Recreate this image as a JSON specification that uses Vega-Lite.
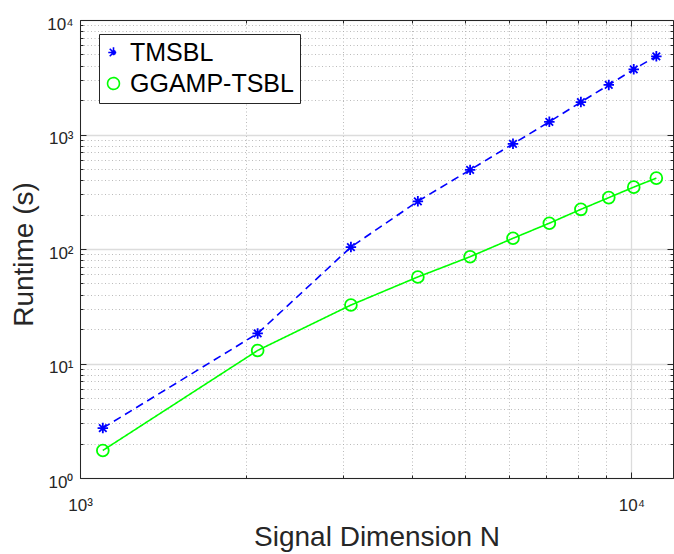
{
  "$schema": "https://vega.github.io/schema/vega-lite/v6.json",
  "width": 593,
  "height": 458,
  "autosize": {"type": "none"},
  "padding": {"left": 80, "top": 20, "right": 1, "bottom": 76},
  "background": "white",
  "config": {
    "view": {"stroke": null},
    "font": "Liberation Sans",
    "axis": {
      "domainColor": "#262626",
      "domainWidth": 1,
      "tickColor": "#262626",
      "tickWidth": 1,
      "labelFont": "Liberation Sans",
      "labelFontSize": 17,
      "labelColor": "#262626",
      "labelFlush": false,
      "labelOverlap": false,
      "labelBound": false,
      "titleFont": "Liberation Sans",
      "titleFontSize": 28,
      "titleFontWeight": "normal",
      "titleColor": "#262626"
    },
    "legend": {
      "title": null,
      "orient": "none",
      "legendX": 19,
      "legendY": 14,
      "padding": 6,
      "rowPadding": 5,
      "strokeColor": "#262626",
      "fillColor": "white",
      "labelFont": "Liberation Sans",
      "labelFontSize": 25,
      "labelColor": "#000000",
      "labelLimit": 0,
      "labelOffset": 4,
      "symbolOffset": -4,
      "symbolSize": 1600,
      "symbolStrokeWidth": 1.5
    }
  },
  "data": {
    "values": [
      {"N": 1100, "runtime": 2.73, "method": "TMSBL"},
      {"N": 2100, "runtime": 18.3, "method": "TMSBL"},
      {"N": 3100, "runtime": 104, "method": "TMSBL"},
      {"N": 4100, "runtime": 261, "method": "TMSBL"},
      {"N": 5100, "runtime": 491, "method": "TMSBL"},
      {"N": 6100, "runtime": 829, "method": "TMSBL"},
      {"N": 7100, "runtime": 1290, "method": "TMSBL"},
      {"N": 8100, "runtime": 1920, "method": "TMSBL"},
      {"N": 9100, "runtime": 2710, "method": "TMSBL"},
      {"N": 10100, "runtime": 3710, "method": "TMSBL"},
      {"N": 11100, "runtime": 4820, "method": "TMSBL"},
      {"N": 1100, "runtime": 1.74, "method": "GGAMP-TSBL"},
      {"N": 2100, "runtime": 13.0, "method": "GGAMP-TSBL"},
      {"N": 3100, "runtime": 32.4, "method": "GGAMP-TSBL"},
      {"N": 4100, "runtime": 57, "method": "GGAMP-TSBL"},
      {"N": 5100, "runtime": 85.6, "method": "GGAMP-TSBL"},
      {"N": 6100, "runtime": 124, "method": "GGAMP-TSBL"},
      {"N": 7100, "runtime": 168, "method": "GGAMP-TSBL"},
      {"N": 8100, "runtime": 222, "method": "GGAMP-TSBL"},
      {"N": 9100, "runtime": 281, "method": "GGAMP-TSBL"},
      {"N": 10100, "runtime": 347, "method": "GGAMP-TSBL"},
      {"N": 11100, "runtime": 416, "method": "GGAMP-TSBL"}
    ]
  },
  "layer": [
    {
      "mark": {"type": "line", "strokeWidth": 1.6},
      "encoding": {
        "x": {
          "field": "N", "type": "quantitative",
          "scale": {"type": "log", "domain": [1000, 11900], "nice": false},
          "axis": {
            "orient": "bottom",
            "values": [1000, 2000, 3000, 4000, 5000, 6000, 7000, 8000, 9000, 10000],
            "labelExpr": "datum.value == 1000 ? '10³' : datum.value == 10000 ? '10⁴' : ''",
            "title": "Signal Dimension N",
            "titleY": 67,
            "titleBaseline": "alphabetic",
            "grid": true,
            "gridColor": {"condition": {"test": "datum.value == 1000 || datum.value == 10000", "value": "#dcdcdc"}, "value": "#aaaaaa"},
            "gridDash": {"condition": {"test": "datum.value == 1000 || datum.value == 10000", "value": []}, "value": [1, 2.5]},
            "gridWidth": {"condition": {"test": "datum.value == 1000 || datum.value == 10000", "value": 1.3}, "value": 0.8},
            "tickSize": {"condition": {"test": "datum.value == 1000 || datum.value == 10000", "value": -6}, "value": -3},
            "labelPadding": 25
          }
        },
        "y": {
          "field": "runtime", "type": "quantitative",
          "scale": {"type": "log", "domain": [1, 10000], "nice": false},
          "axis": {
            "orient": "left",
            "values": [1, 2, 3, 4, 5, 6, 7, 8, 9, 10, 20, 30, 40, 50, 60, 70, 80, 90, 100, 200, 300, 400, 500, 600, 700, 800, 900, 1000, 2000, 3000, 4000, 5000, 6000, 7000, 8000, 9000, 10000],
            "labelExpr": "datum.value == 1 ? '10⁰' : datum.value == 10 ? '10¹' : datum.value == 100 ? '10²' : datum.value == 1000 ? '10³' : datum.value == 10000 ? '10⁴' : ''",
            "title": "Runtime (s)",
            "titleX": -48,
            "titleY": 234,
            "titleBaseline": "alphabetic",
            "titleAngle": 270,
            "titleAlign": "center",
            "grid": true,
            "gridColor": {"condition": {"test": "datum.value == 1 || datum.value == 10 || datum.value == 100 || datum.value == 1000 || datum.value == 10000", "value": "#dcdcdc"}, "value": "#aaaaaa"},
            "gridDash": {"condition": {"test": "datum.value == 1 || datum.value == 10 || datum.value == 100 || datum.value == 1000 || datum.value == 10000", "value": []}, "value": [1, 2.5]},
            "gridWidth": {"condition": {"test": "datum.value == 1 || datum.value == 10 || datum.value == 100 || datum.value == 1000 || datum.value == 10000", "value": 1.3}, "value": 0.8},
            "tickSize": {"condition": {"test": "datum.value == 1 || datum.value == 10 || datum.value == 100 || datum.value == 1000 || datum.value == 10000", "value": -6}, "value": -3},
            "labelPadding": 13,
            "labelOffset": 4
          }
        },
        "color": {
          "field": "method", "type": "nominal",
          "scale": {"domain": ["TMSBL", "GGAMP-TSBL"], "range": ["#0000ff", "#00ff00"]},
          "legend": {
            "encode": {
              "symbols": {
                "update": {
                  "size": {"value": 1600},
                  "strokeWidth": {"value": 1.6}
                }
              }
            }
          }
        },
        "strokeDash": {
          "field": "method", "type": "nominal",
          "scale": {"domain": ["TMSBL", "GGAMP-TSBL"], "range": [[8, 5], [1, 0]]},
          "legend": null
        }
      }
    },
    {
      "mark": {"type": "point", "filled": false, "strokeWidth": 1.8, "opacity": 1},
      "encoding": {
        "x": {
          "field": "N", "type": "quantitative",
          "axis": {
            "orient": "top",
            "values": [1000, 2000, 3000, 4000, 5000, 6000, 7000, 8000, 9000, 10000],
            "labels": false,
            "title": null,
            "grid": false,
            "tickSize": {"condition": {"test": "datum.value == 1000 || datum.value == 10000", "value": -6}, "value": -3}
          }
        },
        "y": {
          "field": "runtime", "type": "quantitative",
          "axis": {
            "orient": "right",
            "values": [1, 2, 3, 4, 5, 6, 7, 8, 9, 10, 20, 30, 40, 50, 60, 70, 80, 90, 100, 200, 300, 400, 500, 600, 700, 800, 900, 1000, 2000, 3000, 4000, 5000, 6000, 7000, 8000, 9000, 10000],
            "labels": false,
            "title": null,
            "grid": false,
            "tickSize": {"condition": {"test": "datum.value == 1 || datum.value == 10 || datum.value == 100 || datum.value == 1000 || datum.value == 10000", "value": -6}, "value": -3}
          }
        },
        "color": {
          "field": "method", "type": "nominal",
          "legend": {
            "encode": {
              "symbols": {
                "update": {
                  "size": {"value": 1600},
                  "strokeWidth": {"value": 1.6}
                }
              }
            }
          }
        },
        "shape": {
          "field": "method", "type": "nominal",
          "scale": {"domain": ["TMSBL", "GGAMP-TSBL"], "range": ["M0,-1V1M-1,0H1M-0.72,-0.72L0.72,0.72M-0.72,0.72L0.72,-0.72", "circle"]},
          "legend": null
        },
        "size": {
          "field": "method", "type": "nominal",
          "scale": {"domain": ["TMSBL", "GGAMP-TSBL"], "range": [110, 140]},
          "legend": null
        }
      }
    }
  ],
  "resolve": {"axis": {"x": "independent", "y": "independent"}}
}
